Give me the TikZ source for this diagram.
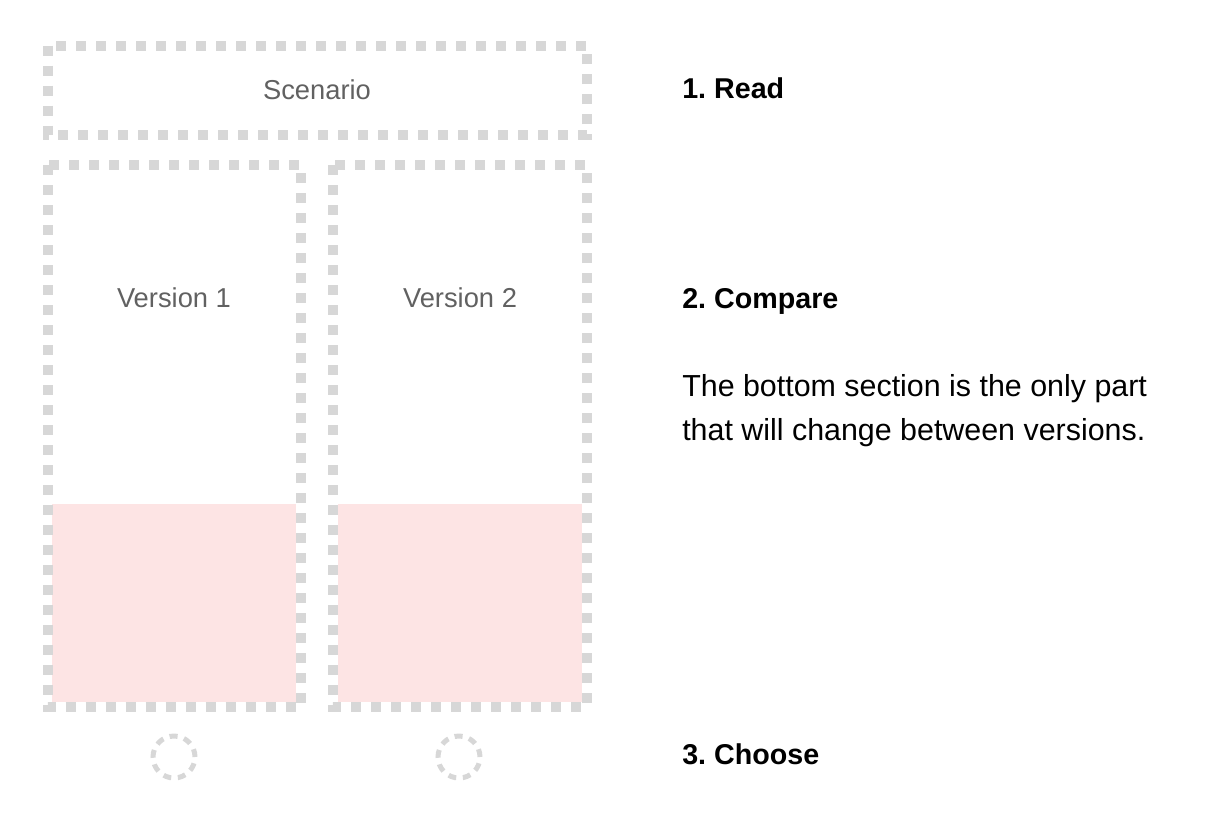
\documentclass[tikz,border=0pt]{standalone}
\usepackage{fontspec}
\setmainfont{Liberation Sans}
\usepackage{tikz}
\usetikzlibrary{positioning}
\definecolor{boxgray}{HTML}{D7D7D7}
\definecolor{pinkfill}{HTML}{FDE4E4}
\definecolor{labelgray}{HTML}{616161}
\frenchspacing
\tikzset{
  dashbox/.style={draw=boxgray,line width=7.5pt,dash pattern=on 7.5pt off 7.5pt},
  pickring/.style={circle,draw=boxgray,line width=3.75pt,dash pattern=on 6pt off 5pt,minimum size=31.5pt,inner sep=0pt},
  boxlabel/.style={anchor=base,text=labelgray,font=\fontsize{20.5}{24}\selectfont},
  steplabel/.style={anchor=base west,inner sep=0pt,font=\fontsize{21.5}{26}\selectfont\bfseries},
}
\begin{document}
\begin{tikzpicture}[x=0.75pt,y=-0.75pt]
  \useasboundingbox (0,0) rectangle (1212,818);
  \fill[pinkfill] (52,504) rectangle (296,702);
  \fill[pinkfill] (338,504) rectangle (582,702);
  \coordinate (scnNW) at (47.5,45.5);
  \coordinate (scnSE) at (587,135);
  \coordinate (v1NW) at (47.5,165);
  \coordinate (v1SE) at (301,707);
  \coordinate (v2NW) at (333,165);
  \coordinate (v2SE) at (587,707);
  \draw[dashbox] (scnNW) rectangle (scnSE);
  \draw[dashbox] (v1NW) rectangle (v1SE);
  \draw[dashbox] (v2NW) rectangle (v2SE);
  \node[boxlabel] (scenario) at (317,99) {Scenario};
  \node[boxlabel] (ver1) at (174,307) {Version 1};
  \node[boxlabel] (ver2) at (460,307) {Version 2};
  \node[pickring] (pick1) at (174,757) {};
  \node[pickring] (pick2) at (459,757) {};
  \node[steplabel] (read) at (682,98) {1. Read};
  \node[steplabel] (compare) at (682,308) {2. Compare};
  \node[anchor=base west,align=left,inner sep=0pt,font=\fontsize{22.8}{33}\selectfont] (note) at (682,440)
    {The bottom section is the only part\\that will change between versions.};
  \node[steplabel] (choose) at (682,764) {3. Choose};
\end{tikzpicture}
\end{document}
